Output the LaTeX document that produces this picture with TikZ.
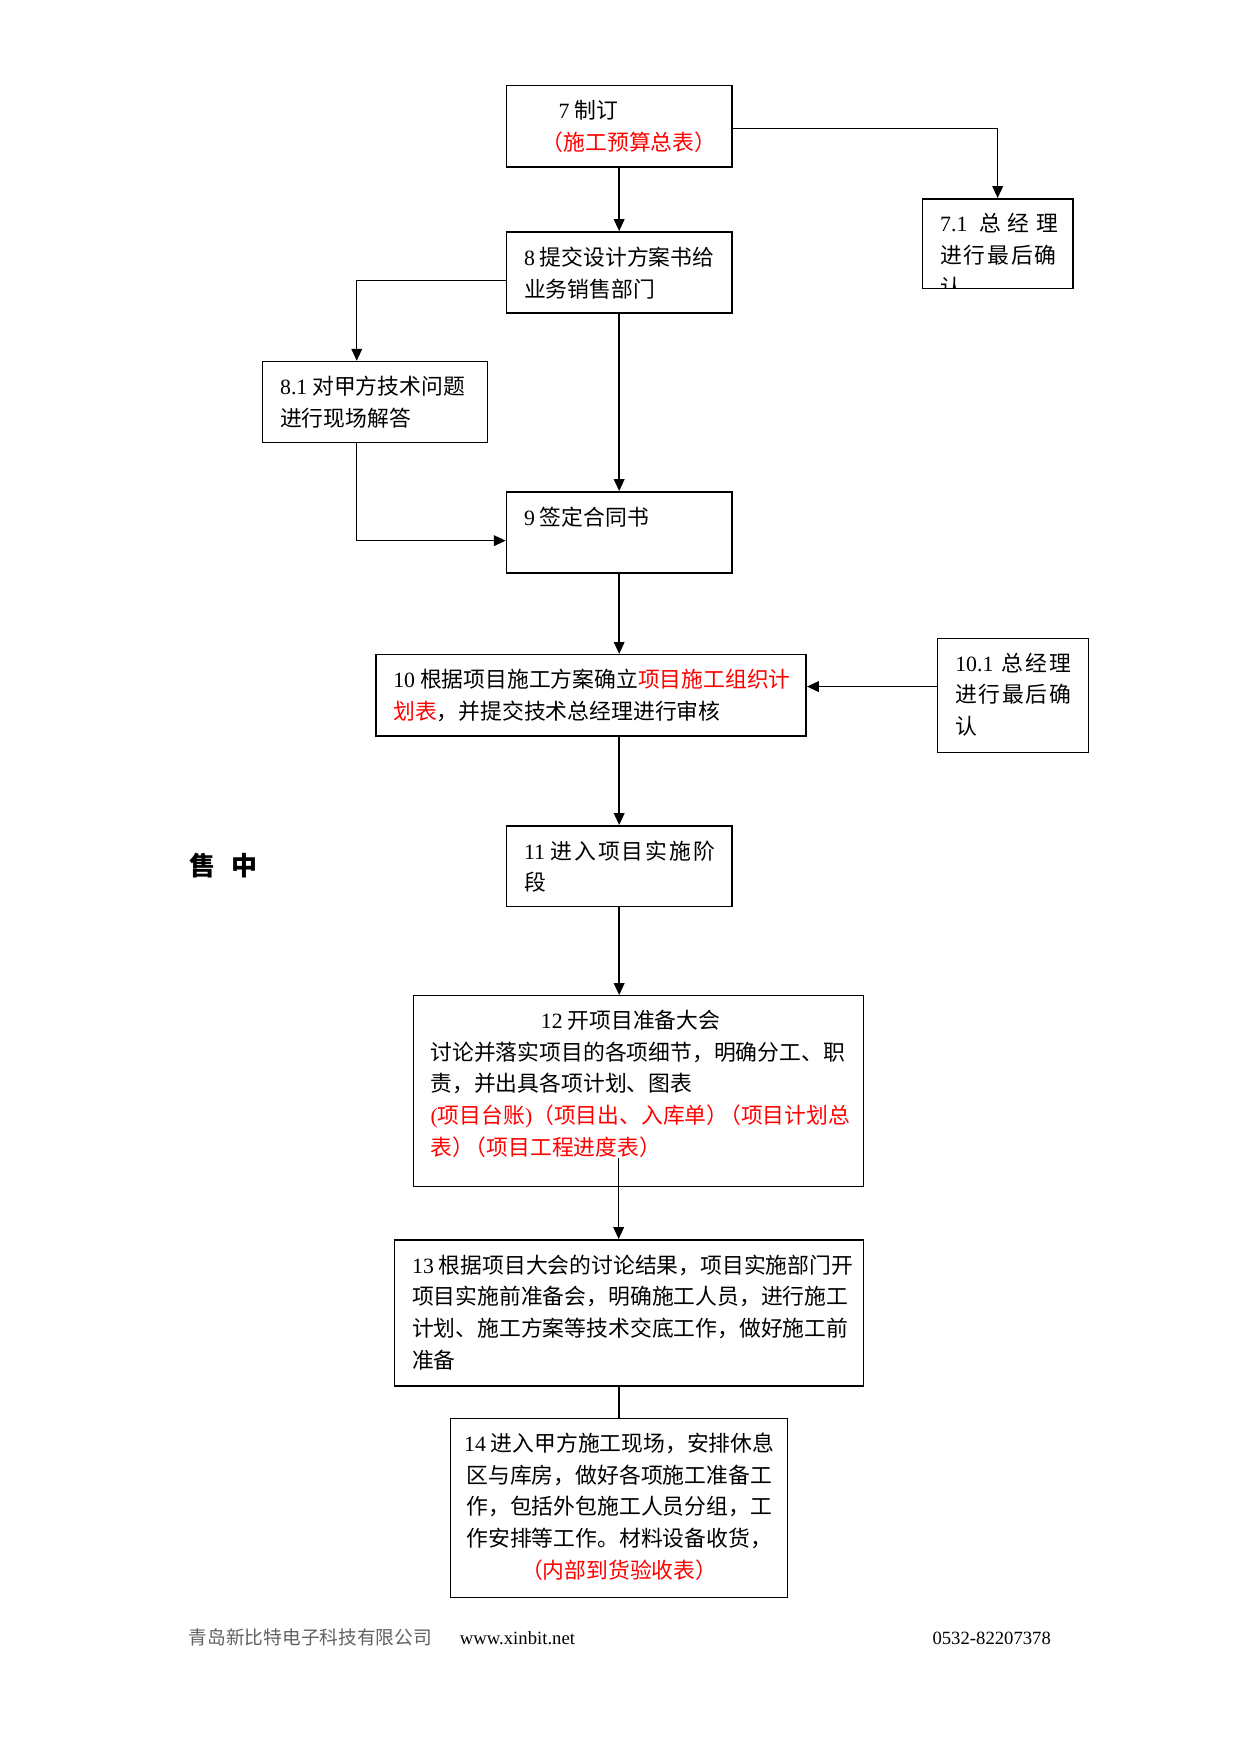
\documentclass[tikz,border=0pt]{standalone}
\usepackage{fontspec}
\setmainfont{Noto Sans CJK SC}
\newfontfamily\lat{Liberation Serif}
\usetikzlibrary{calc,arrows.meta}

\begin{document}
\begin{tikzpicture}[
		x=0.018953cm, y=-0.018953cm,
		>={Triangle[length=2mm,width=1.8mm]},
		line width=0.7pt,
		stage/.style={rectangle, draw, line width=0.8pt, inner sep=0pt, anchor=north west},
		thinstage/.style={stage, line width=0.5pt},
		boxtext/.style={draw=none, inner sep=0pt, minimum width=0pt, minimum height=0pt, font=\fontsize{10.5pt}{15.3pt}\selectfont},
		txt/.style 2 args={path picture={\node[boxtext, anchor=north west, align=left] (#1) at ($(path picture bounding box.north west)+(15,12.5)$) {#2};}},
		txtc/.style 2 args={path picture={\node[boxtext, anchor=north, align=center] (#1) at ($(path picture bounding box.north)+(0,12.5)$) {#2};}}
	]
	\useasboundingbox (0cm,0cm) rectangle (21cm,-29.68cm);

	% main column
	\node[stage, minimum width=3.813cm, minimum height=1.376cm,
		txt={t7}{\hspace*{0.584cm}{\lat 7} 制订\\\hspace*{0.3cm}\textcolor{red}{（施工预算总表）}}] (b7) at (451.5,75.6) {};
	\node[stage, minimum width=3.813cm, minimum height=1.376cm,
		txt={t8}{{\lat 8} 提交设计方案书给\\业务销售部门}] (b8) at (451.5,206.3) {};
	\node[stage, minimum width=2.542cm, minimum height=1.518cm,
		txt={t71}{{\lat 7.1}\hspace{6pt}总\hspace{3pt}经\hspace{3pt}理\\进\hspace{0.9pt}行\hspace{0.9pt}最\hspace{0.9pt}后\hspace{0.9pt}确\\认}] (b71) at (823,176.8) {};
	\node[thinstage, minimum width=3.808cm, minimum height=1.380cm,
		txt={t81}{{\lat 8.1} 对甲方技术问题\\进行现场解答}] (b81) at (234.2,322.1) {};
	\node[stage, minimum width=3.813cm, minimum height=1.376cm,
		txt={t9}{{\lat 9} 签定合同书}] (b9) at (451.5,438.4) {};
	\node[stage, minimum width=7.284cm, minimum height=1.374cm,
		txt={t10}{{\lat 10} 根据项目施工方案确立\textcolor{red}{项目施工组织计}\\\textcolor{red}{划表}，并提交技术总经理进行审核}] (b10) at (334.7,583.8) {};
	\node[thinstage, minimum width=2.540cm, minimum height=1.924cm,
		txt={t101}{{\lat 10.1}\hspace{4pt}总\hspace{1pt}经\hspace{1pt}理\\进\hspace{0.8pt}行\hspace{0.8pt}最\hspace{0.8pt}后\hspace{0.8pt}确\\认}] (b101) at (837,569.5) {};
	\node[stage, minimum width=3.813cm, minimum height=1.365cm,
		txt={t11}{{\lat 11}\hspace{2.5pt}进\hspace{1pt}入\hspace{1pt}项\hspace{1pt}目\hspace{1pt}实\hspace{1pt}施\hspace{1pt}阶\\段}] (b11) at (451.5,736.6) {};
	\node[thinstage, minimum width=7.615cm, minimum height=3.231cm,
		txt={t12}{\hspace*{1.867cm}{\lat 12} 开项目准备大会\\讨论并落实项目的各项细节，明确分工、职\\责，并出具各项计划、图表\\\textcolor{red}{{\lat (}项目台账{\lat )}（项目出、入库单）\hspace{-4.5pt}（项目计划总}\\\textcolor{red}{表）\hspace{-4.5pt}（项目工程进度表）}}] (b12) at (368.5,888.4) {};
	\node[stage, minimum width=7.937cm, minimum height=2.471cm,
		txt={t13}{{\lat 13} 根据项目大会的讨论结果，项目实施部门开\\项目实施前准备会，明确施工人员，进行施工\\计划、施工方案等技术交底工作，做好施工前\\准备}] (b13) at (351.5,1106.25) {};
	\node[thinstage, minimum width=5.709cm, minimum height=3.036cm,
		txtc={t14}{{\lat 14} 进入甲方施工现场，安排休息\\区与库房，做好各项施工准备工\\作，包括外包施工人员分组，工\\作安排等工作。材料设备收货，\\\textcolor{red}{（内部到货验收表）}}] (b14) at (401.8,1265.8) {};

	% connectors
	\draw[->] (b7.south) -- (b8.north);
	\draw[->] ($(b7.east)+(0,2)$) -| (b71.north);
	\draw[->] ($(b8.west)+(0,7)$) -| ($(b81.north)+(-16.6,0)$);
	\draw[->] (b8.south) -- (b9.north);
	\draw[->] ($(b81.south)+(-16.6,0)$) |- ($(b9.west)+(0,7.3)$);
	\draw[->] (b9.south) -- (b9.south |- b10.north);
	\coordinate (in101) at ($(b101.west)+(0,-7.7)$);
	\draw[->] (in101) -- (in101 -| b10.east);
	\draw[->] (b11.north |- b10.south) -- (b11.north);
	\draw[->] (b11.south) -- (b11.south |- b12.north);
	\coordinate (in12) at (552.4,1034.2);
	\draw[->] (in12) -- (in12 |- b13.north);
	\draw (b14.north |- b13.south) -- (b14.north);

	% side label and footer
	\node[font=\fontsize{12.5pt}{15pt}\selectfont\bfseries] (phase) at (199.6,772.5) {售\hspace{8pt}中};
	\node[anchor=base west, inner sep=0pt, text=black!62, font=\fontsize{9pt}{11pt}\selectfont] (corp) at (168,1468.5) {青岛新比特电子科技有限公司};
	\node[anchor=base west, inner sep=0pt, font=\fontsize{9pt}{11pt}\lat] (web) at (410,1468.5) {www.xinbit.net};
	\node[anchor=base west, inner sep=0pt, font=\fontsize{9pt}{11pt}\lat] (tel) at (832,1468.5) {0532-82207378};
\end{tikzpicture}
\end{document}
